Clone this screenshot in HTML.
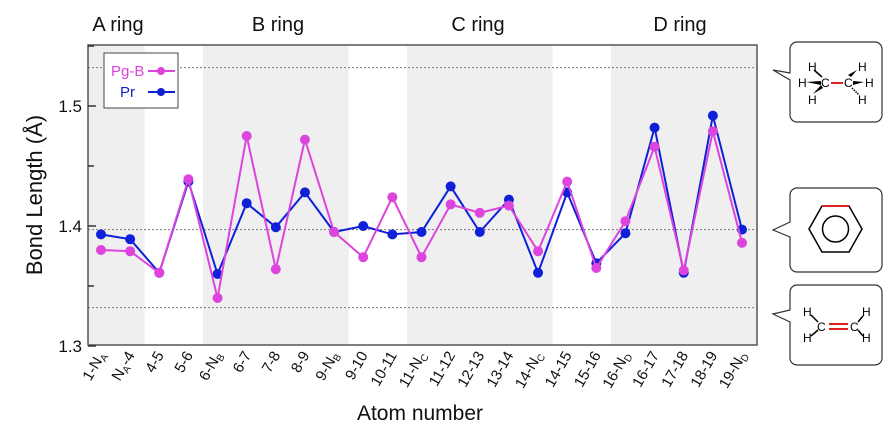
<!DOCTYPE html>
<html><head><meta charset="utf-8"><style>
body{margin:0;background:#fff;}
svg{display:block;font-family:"Liberation Sans",Arial,sans-serif;}
</style></head><body>
<svg id="chart" width="895" height="432" viewBox="0 0 895 432" xmlns="http://www.w3.org/2000/svg">
<g id="bands"></g>
<g id="grid"></g>
<g id="series"></g>
<rect x="88" y="45" width="669" height="300" fill="none" stroke="#555" stroke-width="1.5"/>
<g id="yaxis"></g>
<g id="xaxis"></g>
<text transform="translate(42,195) rotate(-90)" text-anchor="middle" font-size="22" fill="#111">Bond Length (Å)</text>
<text x="420" y="420" text-anchor="middle" font-size="21" fill="#111">Atom number</text>
<text x="118" y="31" text-anchor="middle" font-size="20" fill="#111">A ring</text>
<text x="278" y="31" text-anchor="middle" font-size="20" fill="#111">B ring</text>
<text x="478" y="31" text-anchor="middle" font-size="20" fill="#111">C ring</text>
<text x="680" y="31" text-anchor="middle" font-size="20" fill="#111">D ring</text>
<g>
<rect x="104" y="53" width="74" height="55" fill="#fff" stroke="#444" stroke-width="1"/>
<text x="111" y="76" font-size="15" fill="#dd44dd">Pg-B</text>
<line x1="148" y1="71" x2="175" y2="71" stroke="#dd44dd" stroke-width="2"/><circle cx="161" cy="71" r="4" fill="#dd44dd"/>
<text x="120" y="97" font-size="15" fill="#1020d0">Pr</text>
<line x1="148" y1="92" x2="175" y2="92" stroke="#1020d0" stroke-width="2"/><circle cx="161" cy="92" r="4" fill="#1020d0"/>
</g>
<g font-size="12" fill="#000">
<path d="M797,42 H875 a7,7 0 0 1 7,7 V115 a7,7 0 0 1 -7,7 H797 a7,7 0 0 1 -7,-7 V80 L773,70 L790,73 V49 a7,7 0 0 1 7,-7Z" fill="#fff" stroke="#333" stroke-width="1.2"/>
<text x="808" y="71">H</text><text x="798" y="87">H</text><text x="808" y="104">H</text>
<text x="821" y="87">C</text><text x="844" y="87">C</text>
<text x="858" y="71">H</text><text x="865" y="87">H</text><text x="858" y="104">H</text>
<line x1="831" y1="83" x2="843" y2="83" stroke="#d22" stroke-width="2"/>
<line x1="814" y1="70" x2="822" y2="77" stroke="#000" stroke-width="1.5"/>
<polygon points="806,82 821,81 821,85" fill="#000"/>
<polygon points="813,94 821,85 823,88" fill="#000"/>
<polygon points="857,70 851,77 848,75" fill="#000"/>
<polygon points="864,82 853,81 853,85" fill="#000"/>
<line x1="852" y1="88" x2="859" y2="95" stroke="#000" stroke-width="1.5" stroke-dasharray="1.5,1"/>
</g>
<g>
<path d="M797,188 H875 a7,7 0 0 1 7,7 V265 a7,7 0 0 1 -7,7 H797 a7,7 0 0 1 -7,-7 V237 L773,230 L790,222 V195 a7,7 0 0 1 7,-7Z" fill="#fff" stroke="#333" stroke-width="1.2"/>
<polygon points="822,206 849,206 862,229 849,252 822,252 809,229" fill="none" stroke="#000" stroke-width="1.5"/>
<line x1="822" y1="206" x2="849" y2="206" stroke="#d22" stroke-width="2"/>
<circle cx="835.5" cy="229" r="13" fill="none" stroke="#000" stroke-width="1.5"/>
</g>
<g font-size="12" fill="#000">
<path d="M797,285 H875 a7,7 0 0 1 7,7 V358 a7,7 0 0 1 -7,7 H797 a7,7 0 0 1 -7,-7 V322 L773,314 L790,310 V292 a7,7 0 0 1 7,-7Z" fill="#fff" stroke="#333" stroke-width="1.2"/>
<text x="803" y="316">H</text><text x="803" y="342">H</text><text x="817" y="331">C</text>
<text x="850" y="331">C</text><text x="862" y="316">H</text><text x="862" y="342">H</text>
<line x1="811" y1="315" x2="818" y2="322" stroke="#000" stroke-width="1.5"/>
<line x1="811" y1="336" x2="818" y2="330" stroke="#000" stroke-width="1.5"/>
<line x1="858" y1="322" x2="863" y2="316" stroke="#000" stroke-width="1.5"/>
<line x1="858" y1="330" x2="863" y2="336" stroke="#000" stroke-width="1.5"/>
<line x1="829" y1="324" x2="848" y2="324" stroke="#d22" stroke-width="2"/>
<line x1="829" y1="329" x2="848" y2="329" stroke="#d22" stroke-width="2"/>
</g>
</svg>
<script>
const labels=[["1-N","A",""],["N","A","-4"],["4-5"],["5-6"],["6-N","B",""],["6-7"],["7-8"],["8-9"],["9-N","B",""],["9-10"],["10-11"],["11-N","C",""],["11-12"],["12-13"],["13-14"],["14-N","C",""],["14-15"],["15-16"],["16-N","D",""],["16-17"],["17-18"],["18-19"],["19-N","D",""]];
const pgB=[1.380,1.379,1.361,1.439,1.340,1.475,1.364,1.472,1.395,1.374,1.424,1.374,1.418,1.411,1.417,1.379,1.437,1.365,1.404,1.466,1.363,1.479,1.386];
const pr=[1.393,1.389,1.361,1.437,1.360,1.419,1.399,1.428,1.395,1.400,1.393,1.395,1.433,1.395,1.422,1.361,1.428,1.369,1.394,1.482,1.361,1.492,1.397];
const refLines=[1.532,1.397,1.332];
const majorTicks=[1.3,1.4,1.5];
const minorTicks=[1.35,1.45,1.55];
const bandRanges=[[-0.5,1.5],[3.5,8.5],[10.5,15.5],[17.5,22.5]];
const NS="http://www.w3.org/2000/svg";
const X=i=>101+i*(641/22);
const Y=v=>346-(v-1.3)*1200;
function mk(tag,attrs,parent){const e=document.createElementNS(NS,tag);for(const k in attrs)e.setAttribute(k,attrs[k]);parent.appendChild(e);return e;}
const bands=document.getElementById('bands');
bandRanges.forEach(r=>{const x1=Math.max(88,X(r[0])),x2=Math.min(757,X(r[1]));
const el=mk('rect',{x:x1,y:45,width:x2-x1,height:300,fill:'#efefef'},bands);

});
const grid=document.getElementById('grid');
refLines.forEach(v=>{const el=mk('line',{x1:88,x2:757,y1:Y(v),y2:Y(v),stroke:'#777','stroke-dasharray':'2,2','stroke-width':1},grid);

});
const ya=document.getElementById('yaxis');
majorTicks.forEach(v=>{const t=mk('line',{x1:88,x2:96,y1:Y(v),y2:Y(v),stroke:'#333','stroke-width':1.5},ya);


const tx=mk('text',{x:82,y:Y(v)+6,'text-anchor':'end','font-size':17,fill:'#111'},ya);tx.textContent=v.toFixed(1);

});
minorTicks.forEach(v=>{const t=mk('line',{x1:88,x2:94,y1:Y(v),y2:Y(v),stroke:'#333','stroke-width':1.5},ya);

});
const xa=document.getElementById('xaxis');
labels.forEach((l,i)=>{const tx=mk('text',{transform:`translate(${X(i)+5},355) rotate(-60)`,'text-anchor':'end','font-size':15,fill:'#111'},xa);


const a=mk('tspan',{},tx);a.textContent=l[0];
if(l.length>1){const s=mk('tspan',{'font-size':10,dy:3},tx);s.textContent=l[1];
if(l[2]){const b=mk('tspan',{dy:-3},tx);b.textContent=l[2];}}});
const sg=document.getElementById('series');
function drawSeries(vals,color,name){
const pl=mk('polyline',{points:vals.map((v,i)=>X(i)+','+Y(v)).join(' '),fill:'none',stroke:color,'stroke-width':2},sg);


vals.forEach((v,i)=>{const c=mk('circle',{cx:X(i),cy:Y(v),r:5,fill:color},sg);

});}
drawSeries(pr,'#1020d8','pr');
drawSeries(pgB,'#dd44dd','pg-b');
</script>
</body></html>
